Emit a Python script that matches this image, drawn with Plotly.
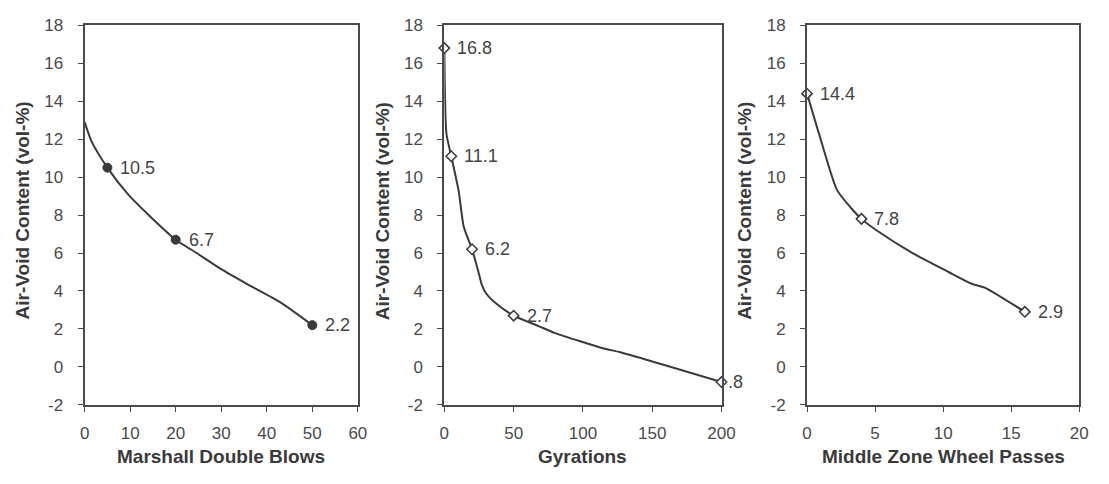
import plotly.graph_objects as go

# ---------------- data ----------------
# Panel 1: Marshall double blows
marshall_curve_x = [0, 1.5, 5, 9.5, 14.5, 20, 24.6, 30, 35.8, 43, 50]
marshall_curve_y = [12.9, 11.9, 10.5, 9.1, 7.9, 6.7, 6.0, 5.15, 4.35, 3.4, 2.2]
marshall_pts_x = [5, 20, 50]
marshall_pts_y = [10.5, 6.7, 2.2]
marshall_labels = ["10.5", "6.7", "2.2"]

# Panel 2: Gyrations
gyr_curve_x = [0, 1.5, 5, 10.4, 14, 20, 24.6, 27, 30.5, 37.6, 50, 68, 80, 115, 127, 200]
gyr_curve_y = [16.8, 12.3, 11.1, 9.24, 7.38, 6.2, 5.0, 4.34, 3.84, 3.33, 2.7, 2.15, 1.78, 0.97, 0.77, -0.8]
gyr_pts_x = [0, 5, 20, 50, 200]
gyr_pts_y = [16.8, 11.1, 6.2, 2.7, -0.8]
gyr_labels = ["16.8", "11.1", "6.2", "2.7", ".8"]

# Panel 3: Middle zone wheel passes
wheel_curve_x = [0, 1, 2.2, 3.2, 4, 5.1, 7.75, 10.4, 12.1, 13.05, 16]
wheel_curve_y = [14.4, 12.0, 9.33, 8.4, 7.8, 7.2, 6.0, 5.0, 4.38, 4.18, 2.9]
wheel_pts_x = [0, 4, 16]
wheel_pts_y = [14.4, 7.8, 2.9]
wheel_labels = ["14.4", "7.8", "2.9"]

x_titles = ["Marshall Double Blows", "Gyrations", "Middle Zone Wheel Passes"]
y_title = "Air-Void Content (vol-%)"
x_tickvals = [[0, 10, 20, 30, 40, 50, 60], [0, 50, 100, 150, 200], [0, 5, 10, 15, 20]]
y_tickvals = [-2, 0, 2, 4, 6, 8, 10, 12, 14, 16, 18]
y_ticktext = ["-2", "0", "2", "4", "6", "8", "10", "12", "14", "16", "18"]

# ---------------- styling / layout ----------------
W, H = 1109, 484
LINE = "#3a3a3a"
AXIS = "#4a4a4a"
TXT = "#444444"
FONT = "Liberation Sans, Arial, sans-serif"

px_dom = [(81, 359), (447, 729), (816, 1093)]
py_top, py_bot = 17, 412
ydom = [1 - py_bot / H, 1 - py_top / H]

panels = [
    (marshall_curve_x, marshall_curve_y, marshall_pts_x, marshall_pts_y, marshall_labels,
     dict(symbol="circle", size=9, color=LINE, line=dict(color=LINE, width=1)), [11, 11, 11]),
    (gyr_curve_x, gyr_curve_y, gyr_pts_x, gyr_pts_y, gyr_labels,
     dict(symbol="diamond", size=8, color="white", line=dict(color=LINE, width=1.5)), [11, 11, 11, 11, 4]),
    (wheel_curve_x, wheel_curve_y, wheel_pts_x, wheel_pts_y, wheel_labels,
     dict(symbol="diamond", size=8, color="white", line=dict(color=LINE, width=1.5)), [11, 11, 11]),
]

fig = go.Figure()
annotations = []
for i, (cx, cy, mx, my, labs, mstyle, shifts) in enumerate(panels):
    n = "" if i == 0 else str(i + 1)
    xa, ya = "x" + n, "y" + n
    fig.add_trace(go.Scatter(x=cx, y=cy, mode="lines", xaxis=xa, yaxis=ya,
                             line=dict(color=LINE, width=2, shape="spline", smoothing=0.6),
                             showlegend=False, hoverinfo="skip", cliponaxis=False))
    fig.add_trace(go.Scatter(x=mx, y=my, mode="markers", xaxis=xa, yaxis=ya,
                             marker=mstyle, showlegend=False, cliponaxis=False))
    for xv, yv, t, s in zip(mx, my, labs, shifts):
        annotations.append(dict(x=xv, y=yv, xref=xa, yref=ya, text=t, showarrow=False,
                                xanchor="left", yanchor="middle", xshift=s,
                                font=dict(family=FONT, size=18, color=TXT)))
    x0, x1 = px_dom[i]
    axis_common = dict(showline=True, linecolor=AXIS, linewidth=2, mirror=True,
                       ticks="outside", ticklen=5, tickcolor=AXIS, tickwidth=1,
                       showgrid=False, zeroline=False,
                       tickfont=dict(family=FONT, size=17, color="#4a4a4a"))
    xt = x_tickvals[i]
    fig.update_layout(**{
        ("xaxis" + n): dict(domain=[x0 / W, x1 / W], range=[xt[0], xt[-1]],
                            tickvals=xt, ticktext=[str(v) for v in xt],
                            anchor=ya, ticklabelstandoff=7, **axis_common),
        ("yaxis" + n): dict(domain=ydom, range=[y_tickvals[0], y_tickvals[-1]],
                            tickvals=y_tickvals, ticktext=y_ticktext,
                            anchor=xa, ticklabelstandoff=11, **axis_common),
    })
    # axis titles
    annotations.append(dict(x=(x0 + x1) / 2 / W, y=1 - 466 / H, xref="paper", yref="paper",
                            text="<b>%s</b>" % x_titles[i], showarrow=False,
                            xanchor="center", yanchor="middle",
                            font=dict(family=FONT, size=19, color="#3a3a3a")))
    annotations.append(dict(x=(x0 - 63) / W, y=1 - 210 / H, xref="paper", yref="paper",
                            text="<b>%s</b>" % y_title, showarrow=False, textangle=-90,
                            xanchor="center", yanchor="middle",
                            font=dict(family=FONT, size=19, color="#3a3a3a")))

fig.update_layout(width=W, height=H, margin=dict(l=0, r=0, t=0, b=0),
                  paper_bgcolor="white", plot_bgcolor="white",
                  annotations=annotations, showlegend=False)

fig.write_html("out.html")
